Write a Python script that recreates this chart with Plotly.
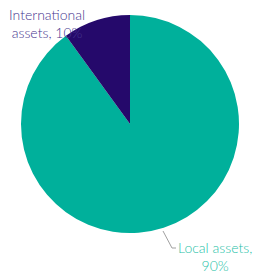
import plotly.graph_objects as go

labels = ["Local assets", "International assets"]
values = [90, 10]
colors = ["#00B09B", "#25096B"]
text_colors = ["#1FBFA8", "#46358F"]

W, H = 255, 274

def px(x):
    return x / W

def py(y):
    return (H - y) / H

fig = go.Figure(go.Pie(
    labels=labels,
    values=values,
    sort=False,
    direction="clockwise",
    rotation=0,
    textinfo="none",
    hoverinfo="label+percent",
    marker=dict(colors=colors, line=dict(width=0)),
    domain=dict(x=[px(21), px(239)], y=[py(233), py(15)]),
    showlegend=False,
))

fig.add_annotation(
    x=px(47), y=py(4), xref="paper", yref="paper",
    xanchor="center", yanchor="top",
    text=f"International<br>assets, {values[1]}%",
    showarrow=False, align="center",
    font=dict(family="Lato", size=14, weight=300, color=text_colors[1]),
)
fig.add_annotation(
    x=px(215), y=py(237), xref="paper", yref="paper",
    xanchor="center", yanchor="top",
    text=f"Local assets,<br>{values[0]}%",
    showarrow=False, align="center",
    font=dict(family="Lato", size=14, weight=300, color=text_colors[0]),
)
fig.add_shape(type="path", xref="paper", yref="paper",
              path=f"M {px(163)} {py(231)} L {px(172)} {py(248)} L {px(176)} {py(248)}",
              line=dict(color="#A0A0A0", width=1))

fig.update_layout(
    width=W, height=H,
    margin=dict(l=0, r=0, t=0, b=0),
    paper_bgcolor="white",
    plot_bgcolor="white",
)

fig.write_html("out.html", config={"displayModeBar": False},
               post_script="document.body.style.margin='0';document.body.style.overflow='hidden';")
